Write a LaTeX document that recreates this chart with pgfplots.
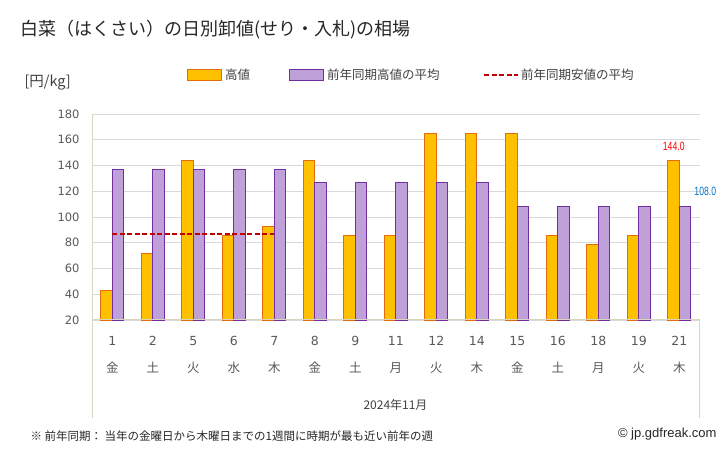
\documentclass[border=0pt]{standalone}
\usepackage{fontspec}
\setmainfont{Noto Sans CJK JP}
\newfontfamily\numfont{DejaVu Sans}
\newfontfamily\arialfont{Liberation Sans}
\newfontfamily\lblfont[FakeStretch=0.72]{Liberation Sans}
\usepackage{pgfplots}
\usepackage{pgfplotstable}
\pgfplotsset{compat=1.18}

\definecolor{hiFill}{HTML}{FFC000}
\definecolor{hiEdge}{HTML}{E46C0A}
\definecolor{avFill}{HTML}{BFA0D9}
\definecolor{avEdge}{HTML}{7030A0}
\definecolor{lowLine}{HTML}{C00000}
\definecolor{gridc}{HTML}{D9D9D9}
\definecolor{framec}{HTML}{D9D4C0}
\definecolor{tickc}{HTML}{595959}
\definecolor{textc}{HTML}{404040}

% x = day index, hi = high price, avg = last year's average high
\pgfplotstableread{
x hi avg
0 43 137
1 72 137
2 144 137
3 86 137
4 93 137
5 144 127
6 86 127
7 86 127
8 165 127
9 165 127
10 165 108
11 86 108
12 79 108
13 86 108
14 144 108
}\prices

\begin{document}
\begin{tikzpicture}
\path[use as bounding box] (0,0) rectangle (728pt,450pt);

\begin{axis}[
    name=main,
    at={(92pt,130pt)}, anchor=south west,
    scale only axis,
    width=607.5pt, height=206pt,
    xmin=-0.5, xmax=14.5,
    ymin=20, ymax=180,
    ytick={20,40,...,180},
    xtick={0,...,14},
    xticklabels={
        {{\numfont 1}\\金},{{\numfont 2}\\土},{{\numfont 5}\\火},{{\numfont 6}\\水},
        {{\numfont 7}\\木},{{\numfont 8}\\金},{{\numfont 9}\\土},{{\numfont 11}\\月},
        {{\numfont 12}\\火},{{\numfont 14}\\木},{{\numfont 15}\\金},{{\numfont 16}\\土},
        {{\numfont 18}\\月},{{\numfont 19}\\火},{{\numfont 21}\\木}},
    axis line style={draw=none},
    major tick length=0pt,
    ymajorgrids,
    grid style={gridc, line width=0.8pt},
    yticklabel style={font=\numfont\fontsize{11.5}{12}\selectfont, text=tickc, xshift=-9pt},
    /pgf/number format/assume math mode=true,
    xticklabel style={align=center, font=\fontsize{12.5}{27}\selectfont, text=tickc, yshift=-13pt},
    clip=false,
]
\addplot[ybar, bar width=11.5pt, bar shift=-5.75pt, fill=hiFill, draw=hiEdge, line width=1pt]
    table[x=x, y=hi] {\prices};
\addplot[ybar, bar width=11.5pt, bar shift=5.75pt, fill=avFill, draw=avEdge, line width=1pt]
    table[x=x, y=avg] {\prices};
\addplot[lowLine, line width=2pt, dash pattern=on 5pt off 2.5pt]
    coordinates {(0,86.5) (4,86.5)};
% value labels on the last day
\addplot[draw=none, nodes near coords, point meta=explicit symbolic,
    nodes near coords style={anchor=center, xshift=-5.5pt, yshift=14pt,
        font=\lblfont\fontsize{12}{12}\selectfont, text=red}]
    coordinates {(14,144) [144.0]};
\addplot[draw=none, nodes near coords, point meta=explicit symbolic,
    nodes near coords style={anchor=center, xshift=26pt, yshift=15pt,
        font=\lblfont\fontsize{12}{12}\selectfont, text={rgb,255:red,0;green,112;blue,192}}]
    coordinates {(14,108) [108.0]};
\end{axis}

% frame
\draw[framec, line width=1pt] (main.north west) -- ++(0,-304pt);
\draw[framec, line width=1pt] (main.south west) -- (main.south east) -- ++(0,-98pt);

% title and unit
\node[anchor=west, font=\fontsize{18}{18}\selectfont, text=black!85] at (17pt,420pt)
    {白菜（はくさい）の日別卸値(せり・入札)の相場};
\node[anchor=west, font=\fontsize{14.5}{14}\selectfont, text=textc] at (21pt,367pt) {[円/kg]};

% legend
\filldraw[fill=hiFill, draw=hiEdge, line width=1pt] (187pt,369pt) rectangle (221pt,380pt);
\node[anchor=west, font=\fontsize{12.5}{13}\selectfont, text=textc, inner sep=0pt] at (225pt,375.5pt) {高値};
\filldraw[fill=avFill, draw=avEdge, line width=1pt] (289pt,369pt) rectangle (323pt,380pt);
\node[anchor=west, font=\fontsize{12.5}{13}\selectfont, text=textc, inner sep=0pt] at (327pt,375.5pt) {前年同期高値の平均};
\draw[lowLine, line width=2pt, dash pattern=on 5pt off 2.5pt] (484pt,374.5pt) -- (518pt,374.5pt);
\node[anchor=west, font=\fontsize{12.5}{13}\selectfont, text=textc, inner sep=0pt] at (521pt,375.5pt) {前年同期安値の平均};

% x label and notes
\node[font=\fontsize{12}{12}\selectfont, text=textc] at (395.5pt,45pt) {2024年11月};
\node[anchor=west, font=\fontsize{11.5}{12}\selectfont, text=black!85] at (27pt,14pt)
    {※ 前年同期： 当年の金曜日から木曜日までの1週間に時期が最も近い前年の週};
\node[anchor=east, font=\arialfont\fontsize{13}{13}\selectfont, text=black!85] at (720pt,16pt)
    {© jp.gdfreak.com};
\end{tikzpicture}
\end{document}
